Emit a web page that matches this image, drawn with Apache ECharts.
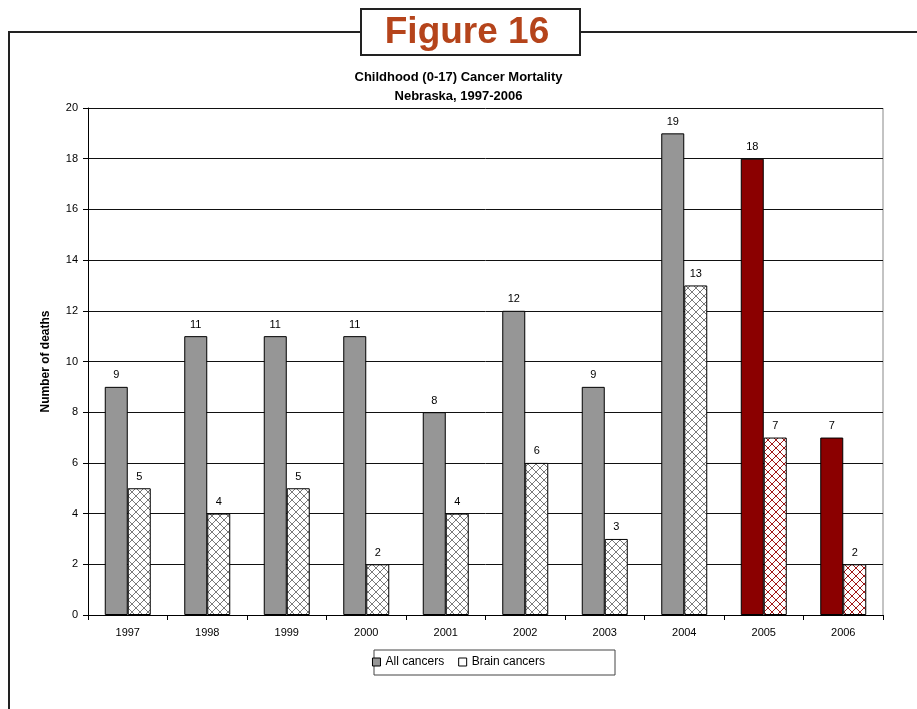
<!DOCTYPE html>
<html>
<head>
<meta charset="utf-8">
<script src="https://cdn.jsdelivr.net/npm/echarts@6/dist/echarts.min.js"></script>
<style>
  html, body { margin: 0; padding: 0; background: #fff; }
  #chart { width: 917px; height: 709px; }
</style>
</head>
<body>
<div id="chart"></div>
<script>
// Childhood cancer deaths, Nebraska
const years = ['1997', '1998', '1999', '2000', '2001', '2002', '2003', '2004', '2005', '2006'];
const allCancers = [9, 11, 11, 11, 8, 12, 9, 19, 18, 7];
const brainCancers = [5, 4, 5, 2, 4, 6, 3, 13, 7, 2];
const highlightYears = ['2005', '2006'];
const yTicks = [0, 2, 4, 6, 8, 10, 12, 14, 16, 18, 20];

// cross-hatch fill for the brain cancer bars
function hatch(lineColor) {
  const s = 8;
  const c = document.createElement('canvas');
  c.width = s; c.height = s;
  const g = c.getContext('2d');
  g.fillStyle = '#ffffff';
  g.fillRect(0, 0, s, s);
  g.strokeStyle = lineColor;
  g.lineWidth = 1;
  g.beginPath();
  g.moveTo(0, 0); g.lineTo(s, s);
  g.moveTo(s, 0); g.lineTo(0, s);
  g.stroke();
  return { image: c, repeat: 'repeat' };
}
const grayHatch = hatch('#7a7a7a');
const redHatch = hatch('#a01818');

const allData = allCancers.map((v, i) => {
  const hi = highlightYears.includes(years[i]);
  return { value: v, itemStyle: { color: hi ? '#8b0000' : '#969696' } };
});
const brainData = brainCancers.map((v, i) => {
  const hi = highlightYears.includes(years[i]);
  return { value: v, itemStyle: { color: hi ? redHatch : grayHatch } };
});

const chart = echarts.init(document.getElementById('chart'));
const font = 'Liberation Sans, Arial, sans-serif';

chart.setOption({
  animation: false,
  textStyle: { fontFamily: font },
  title: {
    text: 'Childhood (0-17) Cancer Mortality\nNebraska, 1997-2006',
    left: 'center',
    top: 63,
    textStyle: { fontSize: 13, fontWeight: 'bold', color: '#000', lineHeight: 19, fontFamily: font }
  },
  graphic: [
    // frame around the figure
    { type: 'polyline', shape: { points: [[360, 32], [9, 32], [9, 709]] },
      style: { stroke: '#222', lineWidth: 2, fill: null } },
    { type: 'line', shape: { x1: 581, y1: 32, x2: 917, y2: 32 },
      style: { stroke: '#222', lineWidth: 2 } },
    { type: 'rect', shape: { x: 361, y: 9, width: 219, height: 46 },
      style: { fill: '#fff', stroke: '#222', lineWidth: 2 } },
    { type: 'text', x: 467, y: 33,
      style: { text: 'Figure 16', fontSize: 37, fontWeight: 'bold', fill: '#b5441b',
               fontFamily: font, align: 'center', verticalAlign: 'middle' } },
    // right edge of the plot area
    { type: 'line', shape: { x1: 883, y1: 108, x2: 883, y2: 615 },
      style: { stroke: '#888', lineWidth: 1 } },
    // legend box
    { type: 'rect', shape: { x: 374, y: 650, width: 241, height: 25 },
      style: { fill: null, stroke: '#444', lineWidth: 1 } }
  ],
  legend: {
    bottom: 36,
    left: 'center',
    itemWidth: 8,
    itemHeight: 8,
    itemGap: 14,
    icon: 'rect',
    textStyle: { fontSize: 12, color: '#000', fontFamily: font },
    data: [
      { name: 'All cancers', itemStyle: { color: '#969696', borderColor: '#000', borderWidth: 1 } },
      { name: 'Brain cancers', itemStyle: { color: '#fff', borderColor: '#000', borderWidth: 1 } }
    ]
  },
  grid: { left: 88, right: 34, top: 108, bottom: 94 },
  xAxis: {
    type: 'category',
    data: years,
    axisLine: { lineStyle: { color: '#000', width: 1 } },
    axisTick: { show: true, alignWithLabel: false, length: 5, lineStyle: { color: '#000' } },
    axisLabel: { fontSize: 11, color: '#000', margin: 12 }
  },
  yAxis: {
    type: 'value',
    min: yTicks[0],
    max: yTicks[yTicks.length - 1],
    interval: 2,
    name: 'Number of deaths',
    nameLocation: 'middle',
    nameGap: 36,
    nameTextStyle: { fontSize: 12, fontWeight: 'bold', color: '#000' },
    axisLine: { show: true, lineStyle: { color: '#000' } },
    axisTick: { show: true, length: 5, lineStyle: { color: '#000' } },
    axisLabel: { fontSize: 11, color: '#000', margin: 10 },
    splitLine: { lineStyle: { color: '#111', width: 1 } }
  },
  series: [
    {
      name: 'All cancers',
      type: 'bar',
      data: allData,
      barWidth: 23,
      barGap: '0%',
      itemStyle: { borderColor: '#000', borderWidth: 1 },
      label: { show: true, position: 'top', distance: 6, fontSize: 11, color: '#000' }
    },
    {
      name: 'Brain cancers',
      type: 'bar',
      data: brainData,
      barWidth: 23,
      barGap: '0%',
      itemStyle: { borderColor: '#000', borderWidth: 1 },
      label: { show: true, position: 'top', distance: 6, fontSize: 11, color: '#000' }
    }
  ]
});
</script>
</body>
</html>
